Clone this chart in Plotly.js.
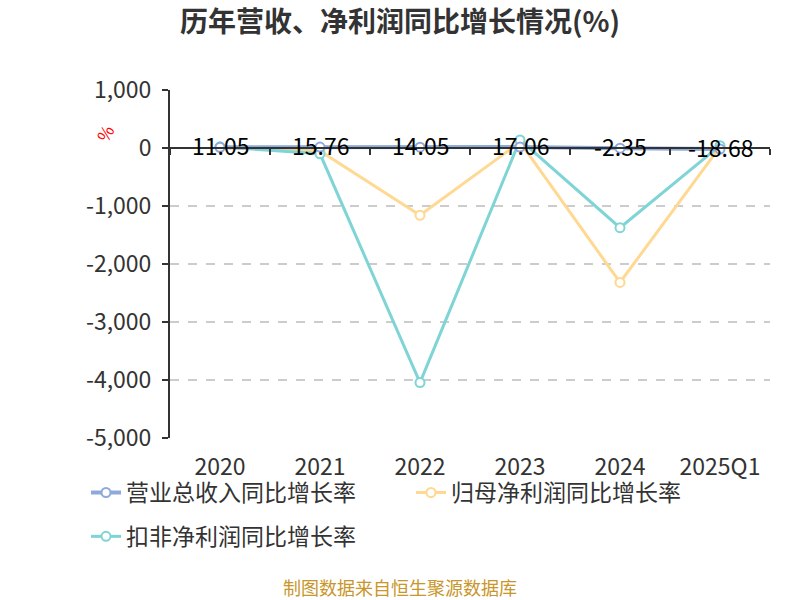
<!DOCTYPE html>
<html>
<head>
<meta charset="utf-8">
<script src="https://cdn.plot.ly/plotly-3.0.1.min.js"></script>
<style>html,body{margin:0;padding:0;background:#fff;}#chart{width:800px;height:600px;}</style>
</head>
<body>
<div id="chart"></div>
<script>
const categories = ["2020", "2021", "2022", "2023", "2024", "2025Q1"];
const revenueGrowth = [11.05, 15.76, 14.05, 17.06, -2.35, -18.68];
const parentProfitGrowth = [5, -50, -1160, 100, -2317, 20];
const deductedProfitGrowth = [20, -100, -4045, 140, -1374, 40];
const revenueLabels = ["11.05", "15.76", "14.05", "17.06", "-2.35", "-18.68"];
const seriesNames = ["营业总收入同比增长率", "归母净利润同比增长率", "扣非净利润同比增长率"];
const yTickVals = [1000, 0, -1000, -2000, -3000, -4000, -5000];
const yTickText = ["1,000", "0", "-1,000", "-2,000", "-3,000", "-4,000", "-5,000"];

const font = "'Noto Sans CJK SC', 'Noto Sans', sans-serif";
const colors = ["#8eaadb", "#ffd891", "#7fd4d6"];

function lineTrace(y, i, extra) {
  return Object.assign({
    type: "scatter",
    mode: "lines+markers",
    x: categories,
    y: y,
    xaxis: "x2", yaxis: "y",
    name: seriesNames[i],
    line: {color: colors[i], width: 3},
    marker: {symbol: "circle", size: 9, color: "#ffffff", line: {color: colors[i], width: 2}},
    cliponaxis: false,
    hoverinfo: "x+y+name"
  }, extra || {});
}

const traces = [
  {
    type: "scatter", mode: "none", x: categories, y: revenueGrowth,
    xaxis: "x", yaxis: "y", showlegend: false, hoverinfo: "skip"
  },
  lineTrace(parentProfitGrowth, 1, {legendrank: 2}),
  lineTrace(deductedProfitGrowth, 2, {legend: "legend2"}),
  lineTrace(revenueGrowth, 0, {
    legendrank: 1,
    line: {color: colors[0], width: 4}
  })
];

// data labels of the revenue series, placed through the category axis (index) and y axis
const labelAnnotations = categories.map((c, i) => ({
  x: i, y: revenueGrowth[i], xref: "x", yref: "y",
  text: revenueLabels[i], showarrow: false,
  xanchor: "center", yanchor: "middle", yshift: 2,
  font: {family: font, size: 23, color: "#000"}
}));

const legendCommon = {
  orientation: "h",
  x: -0.14, xanchor: "left",
  yanchor: "top",
  font: {family: font, size: 23, color: "#333"},
  entrywidth: 280, entrywidthmode: "pixels",
  traceorder: "normal",
  bgcolor: "rgba(0,0,0,0)"
};

const layout = {
  width: 800, height: 600,
  paper_bgcolor: "#fff", plot_bgcolor: "#fff",
  margin: {l: 170, r: 30, t: 90, b: 162},
  font: {family: font, color: "#333"},
  title: {
    text: "<b>历年营收、净利润同比增长情况(%)</b>",
    font: {family: font, size: 28, color: "#333"},
    x: 0.5, xanchor: "center", y: 0.963, yanchor: "middle"
  },
  xaxis: {
    type: "category",
    range: [-0.5, 5.5],
    anchor: "free", position: 5/6, side: "bottom",
    showline: true, linecolor: "#333", linewidth: 2,
    ticks: "outside", ticklen: 6, tickcolor: "#333", tickwidth: 2,
    tickson: "boundaries", showticklabels: false, showgrid: false, zeroline: false
  },
  xaxis2: {
    type: "category", matches: "x", overlaying: "x",
    anchor: "y", side: "bottom",
    showline: false, showgrid: false, zeroline: false,
    ticks: "", tickfont: {family: font, size: 23, color: "#333"},
    ticklabelstandoff: 13
  },
  yaxis: {
    range: [-5000, 1000],
    tickvals: yTickVals,
    ticktext: yTickText,
    showline: true, linecolor: "#333", linewidth: 2,
    ticks: "outside", ticklen: 6, tickcolor: "#333", tickwidth: 2,
    showgrid: true, gridcolor: "#cccccc", griddash: "dash", gridwidth: 1.5,
    zeroline: false,
    ticklabelstandoff: 6,
    tickfont: {family: font, size: 23, color: "#333"}
  },
  showlegend: true,
  legend: Object.assign({}, legendCommon, {y: -0.095}),
  legend2: Object.assign({}, legendCommon, {y: -0.221}),
  annotations: labelAnnotations.concat([
    {
      text: "%", xref: "paper", yref: "paper",
      x: -0.108, y: 0.877, xanchor: "center", yanchor: "middle",
      showarrow: false, textangle: -60,
      font: {family: font, size: 17, color: "#ff0000"}
    },
    {
      text: "制图数据来自恒生聚源数据库", xref: "paper", yref: "paper",
      x: 0.383, xanchor: "center", y: -0.428, yanchor: "middle", showarrow: false,
      font: {family: font, size: 18, color: "#c8962a"}
    }
  ])
};

Plotly.newPlot("chart", traces, layout, {staticPlot: true});
</script>
</body>
</html>
